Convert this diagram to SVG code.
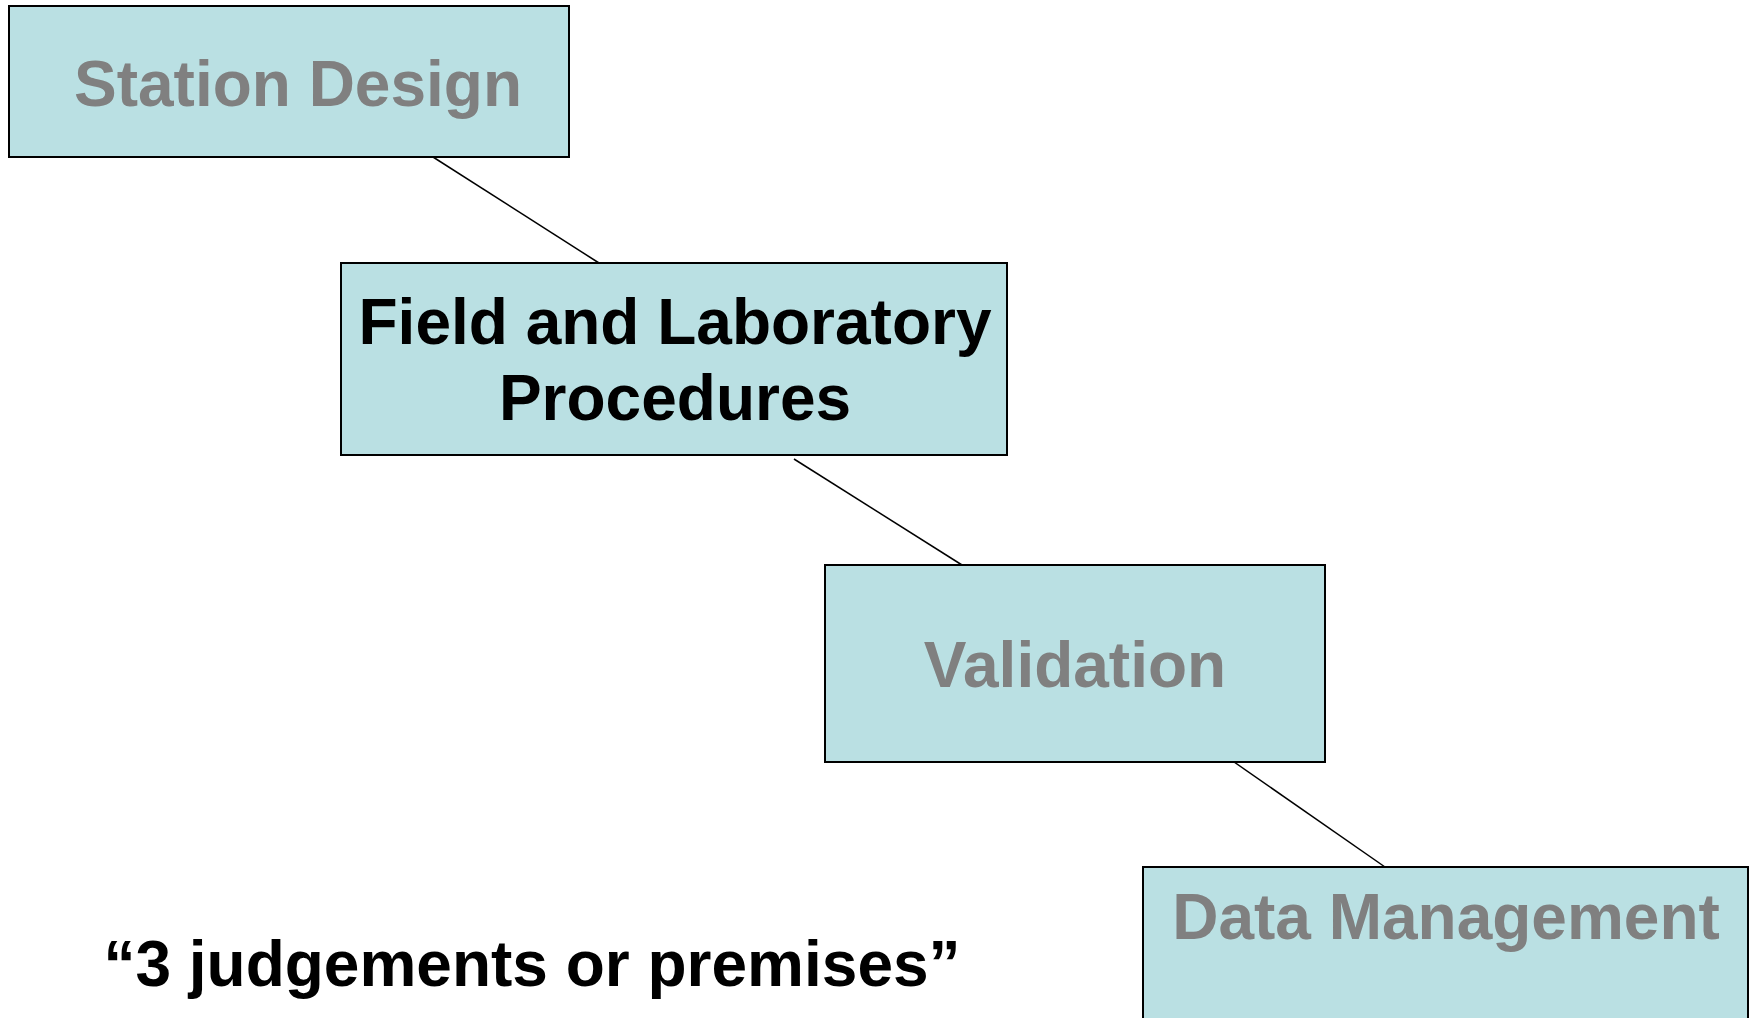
<svg xmlns="http://www.w3.org/2000/svg" width="1749" height="1018" viewBox="0 0 1749 1018">
<style>
.box{fill:#BAE0E3;stroke:#000;stroke-width:2}
.t{font-family:"Liberation Sans",Arial,sans-serif;font-weight:bold;font-size:64px;text-anchor:middle}
.g{fill:#808080}
.k{fill:#000}
.c{stroke:#000;stroke-width:1.5;fill:none}
</style>
<rect width="1749" height="1018" fill="#fff"/>
<g id="connectors">
<line class="c" x1="433" y1="157" x2="599" y2="263"/>
<line class="c" x1="794" y1="459" x2="962" y2="565"/>
<line class="c" x1="1234" y1="762" x2="1385" y2="867"/>
</g>
<g id="station-design">
<rect class="box" x="9" y="6" width="560" height="151"/>
<text class="t g" x="298" y="106">Station Design</text>
</g>
<g id="field-lab">
<rect class="box" x="341" y="263" width="666" height="192"/>
<text class="t k" x="675" y="344">Field and Laboratory</text>
<text class="t k" x="675" y="420">Procedures</text>
</g>
<g id="validation">
<rect class="box" x="825" y="565" width="500" height="197"/>
<text class="t g" x="1075" y="687">Validation</text>
</g>
<g id="data-management">
<rect class="box" x="1143" y="867" width="605" height="170"/>
<text class="t g" x="1446" y="939">Data Management</text>
</g>
<g id="note">
<text class="t k" x="532" y="986">“3 judgements or premises”</text>
</g>
</svg>
